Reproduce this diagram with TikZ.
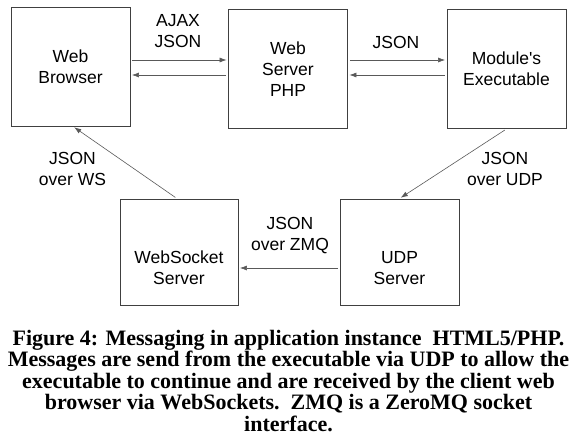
\documentclass[tikz,border=0pt]{standalone}
\usepackage{fontspec}
\setmainfont{Liberation Serif}
\setsansfont{Liberation Sans}
\usetikzlibrary{arrows.meta}

\begin{document}
\begin{tikzpicture}[
    x=1pt, y=-1pt,
    caixa/.style={
        rectangle,
        draw=black!75,
        line width=0.9pt,
        fill=white,
        align=center,
        minimum width=119pt,
        minimum height=119pt,
        font=\sffamily\fontsize{17.5}{21}\selectfont
    },
    texto/.style={
        align=center,
        inner sep=0pt,
        font=\sffamily\fontsize{17.5}{21}\selectfont
    },
    legenda/.style={
        align=center,
        inner sep=0pt,
        font=\rmfamily\bfseries\fontsize{22}{21.5}\selectfont
    },
    seta/.style={-{Latex[length=7pt,width=5pt]}, draw=black!65, line width=0.6pt, shorten >=1.5pt, shorten <=2pt}
]
\useasboundingbox (0,0) rectangle (577,444);

% LINHA DE CIMA
\node[caixa] (browser) at (70.5, 66.5) {Web\\Browser};
\node[caixa] (phpserver) at (288, 69) {Web\\Server\\PHP};
\node[caixa] (modulo) at (506.5, 69) {Module\textquotesingle s\\Executable};

% LINHA DE BAIXO
\node[caixa, minimum width=118pt, minimum height=106pt] (wsserver) at (179, 252) {};
\node[texto] (wstexto) at (179, 268) {WebSocket\\Server};
\node[caixa, minimum height=106pt] (udpserver) at (399.5, 252) {};
\node[texto] (udptexto) at (399.5, 268) {UDP\\Server};

% ROTULOS DAS SETAS
\node[texto] (ajax) at (178, 31) {AJAX\\JSON};
\node[texto] (json) at (396, 42) {JSON};
\node[texto] (jsonws) at (72.5, 169) {JSON\\over WS};
\node[texto] (jsonudp) at (505, 169) {JSON\\over UDP};
\node[texto] (jsonzmq) at (290, 236) {JSON\\over ZMQ};

% --- CONEXOES ---
\draw[seta] ([yshift=6.5pt]browser.east) -- ([yshift=6.5pt]browser.east -| phpserver.west);
\draw[seta] ([yshift=-8.5pt]browser.east -| phpserver.west) -- ([yshift=-8.5pt]browser.east);
\draw[seta] ([yshift=9pt]phpserver.east) -- ([yshift=9pt]modulo.west);
\draw[seta] ([yshift=-6pt]modulo.west) -- ([yshift=-6pt]phpserver.east);
\draw[seta] (modulo.south) -- (udpserver.north);
\draw[seta] ([yshift=-16pt]udpserver.west) -- ([yshift=-16pt]wsserver.east);
\draw[seta] ([xshift=-2pt]wsserver.north) -- ([xshift=2.5pt]browser.south);

% LEGENDA
\node[legenda] (figura) at (288.5, 381) {Figure 4: Messaging in application instance\ \ HTML5/PHP.\\
Messages are send from the executable via UDP to allow the\\
executable to continue and are received by the client web\\
browser via WebSockets.\ \ ZMQ is a ZeroMQ socket\\
interface.};

\end{tikzpicture}
\end{document}
